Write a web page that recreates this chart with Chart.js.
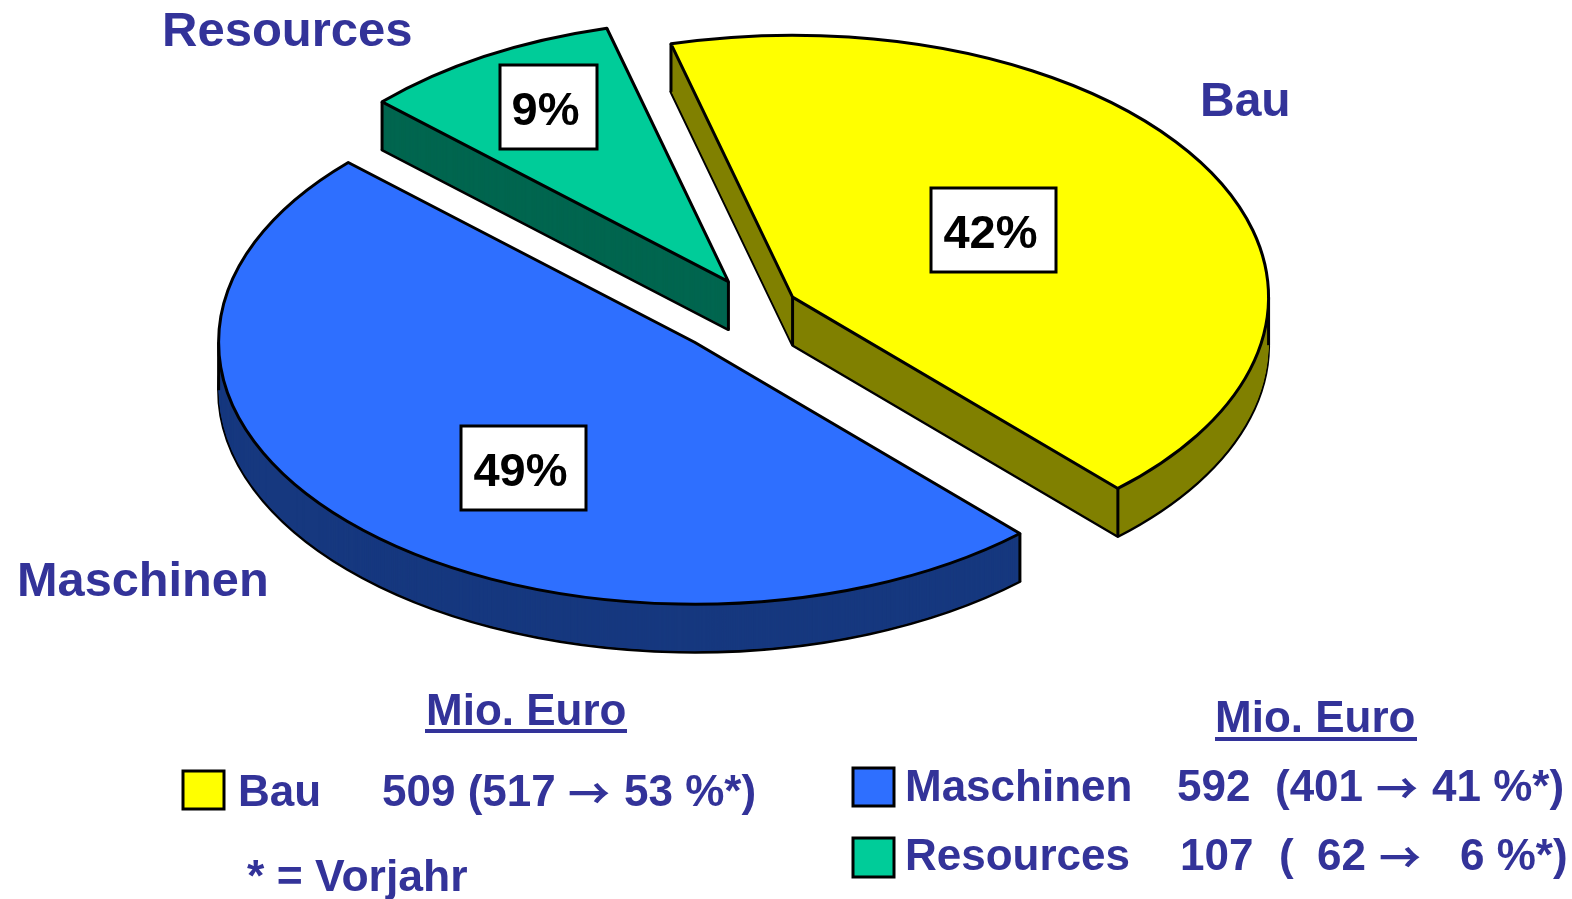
<!DOCTYPE html>
<html>
<head>
<meta charset="utf-8">
<script src="https://cdn.jsdelivr.net/npm/chart.js@4"></script>
<style>
  html, body { margin: 0; padding: 0; background: #fff; }
  canvas { display: block; }
</style>
</head>
<body>
<canvas id="pie" width="1572" height="899"></canvas>
<script>
// values in Mio. Euro, order is clockwise starting with Bau
const categories = ["Bau", "Maschinen", "Resources"];
const values = [509, 592, 107];
const shareLabels = ["42%", "49%", "9%"];
const prevValues = [517, 401, 62];
const prevShares = [53, 41, 6];
const explode = [24, 52, 33];

const topColors = ["#ffff00", "#2e6fff", "#00cc99"];
const sideColors = ["#808000", "#16387f", "#00664f"];

const textColor = "#333399";
const font = '"Liberation Sans", Arial, sans-serif';

// size of the squashed pie on screen
const ellipseA = 476;
const ellipseB = 262;
const depth = 48;

function slicePath(ctx, x, y, start, end) {
    ctx.beginPath();
    ctx.moveTo(x, y);
    ctx.ellipse(x, y, ellipseA, ellipseB, 0, start, end);
    ctx.closePath();
}

const slice3d = {
    id: "slice3d",
    // the arcs are laid out by chart.js, only drawn here as flat ellipses with a side wall
    beforeDatasetsDraw(chart) {
        const ctx = chart.ctx;
        const arcs = chart.getDatasetMeta(0).data;
        const sx = ellipseA / arcs[0].outerRadius;
        const sy = ellipseB / arcs[0].outerRadius;

        arcs.forEach((arc, i) => {
            const mid = (arc.startAngle + arc.endAngle) / 2;
            const x = arc.x + Math.cos(mid) * arc.options.offset * sx;
            const y = arc.y + Math.sin(mid) * arc.options.offset * sy;

            ctx.save();
            ctx.lineJoin = "round";
            ctx.strokeStyle = "#000";
            ctx.lineWidth = 3;

            slicePath(ctx, x, y + depth, arc.startAngle, arc.endAngle);
            ctx.fillStyle = sideColors[i];
            ctx.fill();
            ctx.stroke();
            for (let dy = depth - 1; dy > 0; dy--) {
                slicePath(ctx, x, y + dy, arc.startAngle, arc.endAngle);
                ctx.fill();
            }

            // upright edges of the wall
            let edges = [[x, y]];
            [arc.startAngle, arc.endAngle].forEach(a => edges.push([x + ellipseA * Math.cos(a), y + ellipseB * Math.sin(a)]));
            [-Math.PI, 0, Math.PI, 2 * Math.PI].forEach(a => {
                if (a > arc.startAngle && a < arc.endAngle) edges.push([x + ellipseA * Math.cos(a), y]);
            });
            edges.forEach(e => {
                ctx.beginPath();
                ctx.moveTo(e[0], e[1]);
                ctx.lineTo(e[0], e[1] + depth);
                ctx.stroke();
            });

            slicePath(ctx, x, y, arc.startAngle, arc.endAngle);
            ctx.fillStyle = topColors[i];
            ctx.fill();
            ctx.stroke();
            ctx.restore();
        });
        return false;
    },
    afterDraw(chart) {
        const ctx = chart.ctx;
        ctx.save();
        ctx.textBaseline = "alphabetic";
        ctx.textAlign = "left";

        // white boxes with the shares
        const boxes = [[931, 188, 125, 84], [461, 426, 125, 84], [500, 65, 97, 84]];
        boxes.forEach((b, i) => {
            ctx.fillStyle = "#fff";
            ctx.fillRect(b[0], b[1], b[2], b[3]);
            ctx.strokeStyle = "#000";
            ctx.lineWidth = 3;
            ctx.strokeRect(b[0], b[1], b[2], b[3]);
            ctx.fillStyle = "#000";
            ctx.font = "bold 47px " + font;
            ctx.textAlign = "center";
            ctx.fillText(shareLabels[i], b[0] + b[2] / 2 - 3, b[1] + 60);
        });
        ctx.textAlign = "left";

        ctx.fillStyle = textColor;
        const put = (text, x, y, size) => {
            ctx.font = "bold " + size + "px " + font;
            ctx.fillText(text, x, y);
        };
        const arrow = (x, y) => {
            ctx.font = 'bold 42px "Noto Sans CJK JP", sans-serif';
            ctx.fillText("\u2192", x, y + 3);
        };

        // names next to the pie
        put(categories[0], 1200, 116, 48);
        put(categories[1], 17, 596, 48.7);
        put(categories[2], 162, 46, 49);

        // column headers
        put("Mio. Euro", 426, 725, 44);
        ctx.fillRect(425, 729, 202, 4);
        put("Mio. Euro", 1215, 732, 44);
        ctx.fillRect(1215, 737, 202, 4);

        // legend rows
        const swatches = [[183, 771, 41, 38], [853, 768, 41, 38], [853, 838, 41, 39]];
        swatches.forEach((s, i) => {
            ctx.fillStyle = topColors[i];
            ctx.fillRect(s[0], s[1], s[2], s[3]);
            ctx.strokeStyle = "#000";
            ctx.lineWidth = 3;
            ctx.strokeRect(s[0], s[1], s[2], s[3]);
        });
        ctx.fillStyle = textColor;

        put(categories[0], 238, 806, 44);
        put(values[0] + " (" + prevValues[0], 382, 806, 44);
        arrow(568, 806);
        put(prevShares[0] + " %*)", 624, 806, 44);

        put(categories[1], 905, 801, 44);
        put(String(values[1]), 1177, 801, 44);
        put("(" + prevValues[1], 1275, 801, 44);
        arrow(1376, 801);
        put(prevShares[1] + " %*)", 1432, 801, 44);

        put(categories[2], 905, 870, 44);
        put(String(values[2]), 1180, 870, 44);
        put("(", 1279, 870, 44);
        put(String(prevValues[2]), 1317, 870, 44);
        arrow(1379, 870);
        put(prevShares[2] + " %*)", 1460, 870, 44);

        put("* = Vorjahr", 247, 891, 44.5);
        ctx.restore();
    }
};

new Chart(document.getElementById("pie").getContext("2d"), {
    type: "pie",
    data: {
        labels: categories,
        datasets: [{
            data: values,
            backgroundColor: topColors,
            borderColor: "#000",
            borderWidth: 2,
            offset: explode,
            hoverOffset: 0
        }]
    },
    plugins: [slice3d],
    options: {
        responsive: false,
        animation: false,
        rotation: -14.8,
        layout: { padding: { left: 0, right: 58, top: 0, bottom: 283 } },
        plugins: {
            legend: { display: false },
            tooltip: { enabled: false }
        }
    }
});
</script>
</body>
</html>
